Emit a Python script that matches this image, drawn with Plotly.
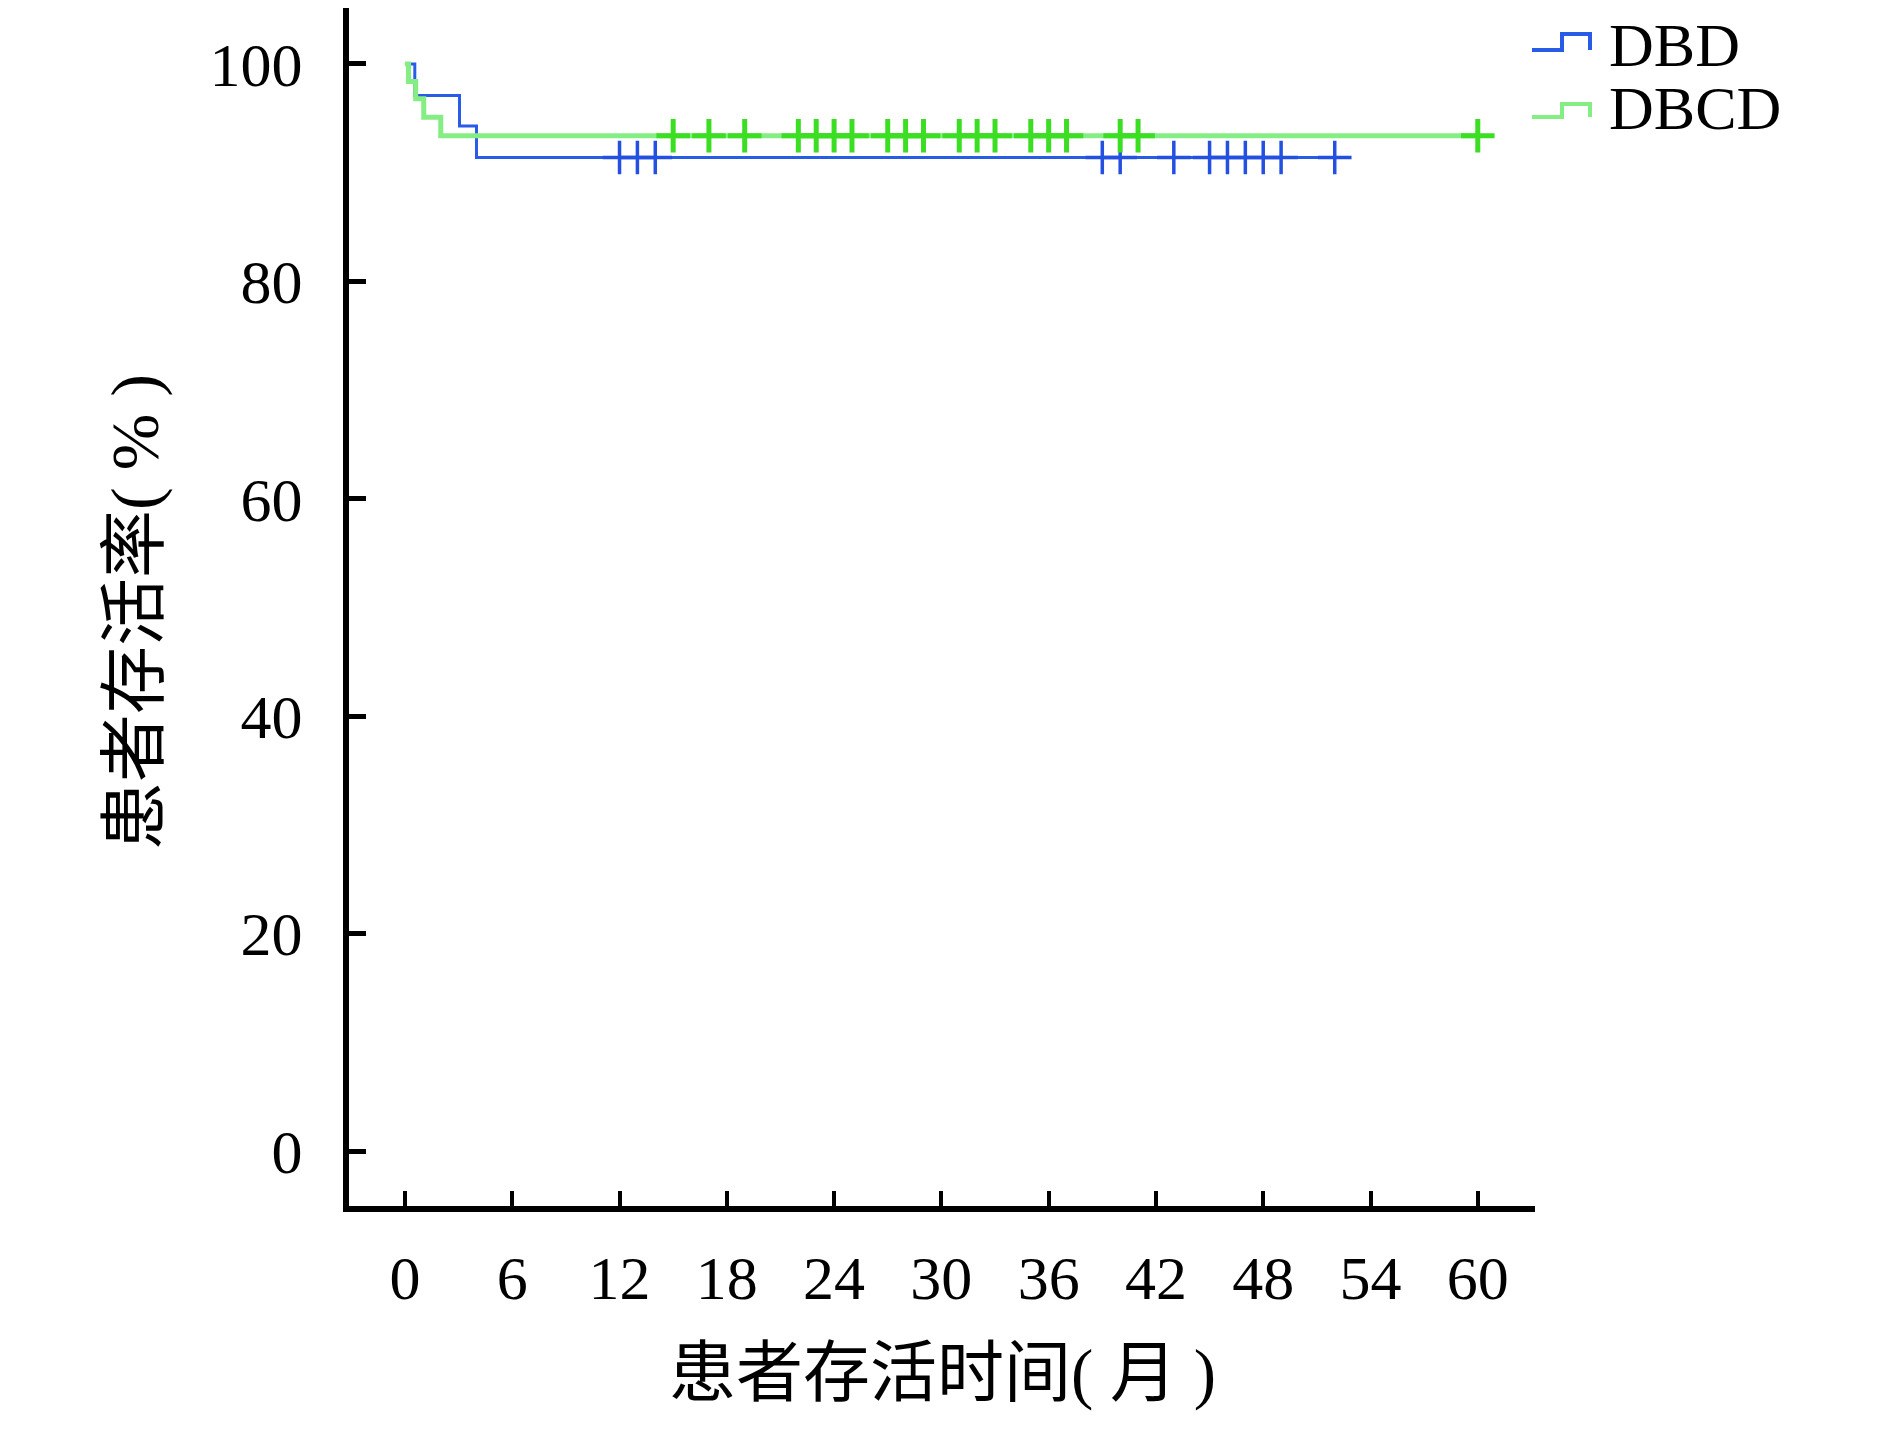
import plotly.graph_objects as go

# ---------------- data ----------------
x_ticks = [0, 6, 12, 18, 24, 30, 36, 42, 48, 54, 60]
y_ticks = [0, 20, 40, 60, 80, 100]

group_names = ["DBD", "DBCD"]

dbd_event_months = [0.55, 3.05, 4.0]
dbd_survival = [97.1, 94.3, 91.4]
dbd_censor_months = [12, 13, 14, 39, 40, 43, 45, 46, 47, 48, 49, 52]
dbd_end_month = 52

dbcd_event_months = [0.2, 0.6, 1.05, 2.0]
dbcd_survival = [98.4, 96.8, 95.1, 93.4]
dbcd_censor_months = [15, 17, 19, 22, 23, 24, 25, 27, 28, 29, 31, 32, 33,
                      35, 36, 37, 40, 41, 60]
dbcd_end_month = 60

# ---------------- styling ----------------
OFF = 8  # default page body margin
W, H = 1890 - 2 * OFF, 1429 - 2 * OFF
L = 349 - OFF
T = 0
PLOT_RIGHT = 1535 - OFF
PLOT_BOTTOM = 1206 - OFF
R = W - PLOT_RIGHT
B = H - PLOT_BOTTOM
PW, PH = W - L - R, H - T - B

SERIF = "Liberation Serif, 'Noto Sans CJK SC', serif"
BLUE_LINE = "rgb(40,92,230)"
BLUE_MARK = "rgb(35,80,225)"
GREEN_LINE = "rgb(132,238,132)"
GREEN_MARK = "rgb(60,222,35)"


def px(x):  # page pixel -> paper fraction
    return (x - OFF - L) / PW


def py(y):
    return (PLOT_BOTTOM - (y - OFF)) / PH


def surv_at(t, events, surv):
    s = 100.0
    for e, v in zip(events, surv):
        if t >= e:
            s = v
    return s


def step_xy(events, surv, end):
    xs = [0] + list(events) + [end]
    ys = [100] + list(surv) + [surv[-1]]
    return xs, ys


fig = go.Figure()

series = [
    (dbd_event_months, dbd_survival, dbd_censor_months, dbd_end_month,
     BLUE_LINE, 3, BLUE_MARK, 3.5),
    (dbcd_event_months, dbcd_survival, dbcd_censor_months, dbcd_end_month,
     GREEN_LINE, 5, GREEN_MARK, 5),
]

for name, (ev, sv, cens, end, lc, lw, mc, mw) in zip(group_names, series):
    xs, ys = step_xy(ev, sv, end)
    fig.add_trace(go.Scatter(
        x=xs, y=ys, mode="lines", line=dict(color=lc, width=lw, shape="hv"),
        name=name, showlegend=False, hoverinfo="skip"))
    fig.add_trace(go.Scatter(
        x=cens, y=[surv_at(c, ev, sv) for c in cens], mode="markers",
        marker=dict(symbol="cross-thin", size=24, line=dict(color=mc, width=mw)),
        name=name + " censored", showlegend=False, cliponaxis=False))

fig.update_xaxes(
    range=[-3.13, 63.2], tickvals=x_ticks, ticktext=[str(v) for v in x_ticks],
    showline=True, linecolor="black", linewidth=6, mirror=False,
    ticks="inside", ticklen=15, tickwidth=4, tickcolor="black",
    showgrid=False, zeroline=False, ticklabelstandoff=13,
    tickfont=dict(family=SERIF, size=62, color="black"))
fig.update_yaxes(
    range=[-5.05, 105.15], tickvals=y_ticks, ticktext=[str(v) for v in y_ticks],
    showline=True, linecolor="black", linewidth=6, mirror=False,
    ticks="inside", ticklen=17, tickwidth=5, tickcolor="black",
    showgrid=False, zeroline=False, ticklabelstandoff=28,
    tickfont=dict(family=SERIF, size=62, color="black"))

annotations = [
    dict(text="患者存活时间( 月 )", x=px(942), y=py(1374), xref="paper", yref="paper",
         xanchor="center", yanchor="middle", showarrow=False,
         font=dict(family=SERIF, size=67, color="black")),
    dict(text="患者存活率( % )", x=px(135), y=py(612), xref="paper", yref="paper",
         xanchor="center", yanchor="middle", showarrow=False, textangle=-90,
         font=dict(family=SERIF, size=68, color="black")),
]

# legend drawn as step icons + text
shapes = []
legend_specs = [(group_names[0], BLUE_LINE, 50, 34, 45),
                (group_names[1], GREEN_LINE, 117, 104, 108)]
for name, col, ylow, yhigh, ytext in legend_specs:
    path = (f"M {px(1532)},{py(ylow)} L {px(1562)},{py(ylow)} L {px(1562)},{py(yhigh)} "
            f"L {px(1590)},{py(yhigh)} L {px(1590)},{py(ylow)}")
    shapes.append(dict(type="path", path=path, xref="paper", yref="paper",
                       line=dict(color=col, width=4)))
    annotations.append(dict(text=name, x=px(1607), y=py(ytext), xref="paper", yref="paper",
                            xanchor="left", yanchor="middle", showarrow=False,
                            font=dict(family=SERIF, size=62, color="black")))

fig.update_layout(
    width=W, height=H, margin=dict(l=L, r=R, t=T, b=B, autoexpand=False),
    paper_bgcolor="white", plot_bgcolor="white",
    annotations=annotations, shapes=shapes, showlegend=False)

fig.write_html("out.html")
